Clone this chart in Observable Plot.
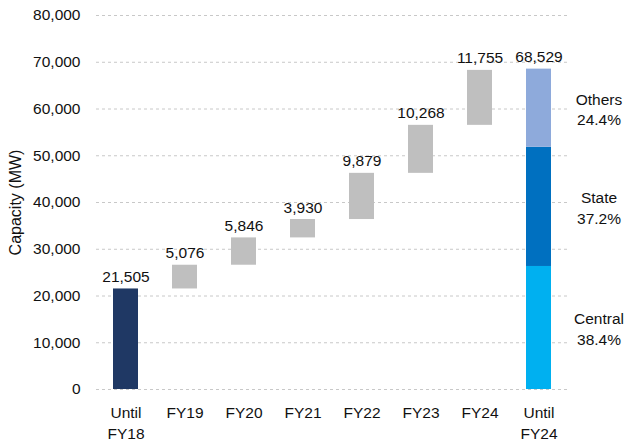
<!DOCTYPE html>
<html>
<head>
<meta charset="utf-8">
<script src="https://cdn.jsdelivr.net/npm/d3@7"></script>
<script src="https://cdn.jsdelivr.net/npm/@observablehq/plot@0.6"></script>
<style>
  html, body { margin: 0; padding: 0; background: #fff; }
</style>
</head>
<body>
<div id="chart"></div>
<script>
const categories = ["Until FY18", "FY19", "FY20", "FY21", "FY22", "FY23", "FY24", "Until FY24"];
const tickLabels = ["Until\nFY18", "FY19", "FY20", "FY21", "FY22", "FY23", "FY24", "Until\nFY24"];
const stepValues = [21505, 5076, 5846, 3930, 9879, 10268, 11755];
const totalValue = 68529;
const segments = ["Central", "State", "Others"];
const segmentShares = [38.4, 37.2, 24.4];
const yTicks = [0, 10000, 20000, 30000, 40000, 50000, 60000, 70000, 80000];

// build waterfall rows
let cum = 0;
const steps = stepValues.map((v, i) => {
  const row = {cat: categories[i], y1: cum, y2: cum + v, value: v, kind: i === 0 ? "base" : "step"};
  cum += v;
  return row;
});
let sc = 0;
const stack = segments.map((s, i) => {
  const h = totalValue * segmentShares[i] / 100;
  const row = {cat: categories[7], seg: s, share: segmentShares[i], y1: sc, y2: sc + h};
  sc += h;
  return row;
});
const labels = [...steps.map(d => ({cat: d.cat, y: d.y2, text: d3.format(",")(d.value)})),
  {cat: categories[7], y: totalValue, text: d3.format(",")(totalValue)}];

const segColor = {Central: "#00b0f0", State: "#0070c0", Others: "#8eaadb"};
const FONT = "'Liberation Sans', Arial, sans-serif";
const FS = 15.5;

const chart = Plot.plot({
  width: 625,
  height: 448,
  marginLeft: 96,
  marginRight: 57,
  marginTop: 15,
  marginBottom: 59,
  style: {fontFamily: FONT, fontSize: FS + "px", color: "#111", background: "#fff"},
  x: {type: "band", domain: categories, paddingInner: 0.576, paddingOuter: 0.288},
  y: {domain: [0, 80000]},
  marks: [
    Plot.gridY(yTicks, {stroke: "#c8c8c8", strokeOpacity: 1, strokeDasharray: "3,3"}),
    Plot.axisY(yTicks, {tickSize: 0, tickPadding: 16, tickFormat: d3.format(","), fontSize: FS,
      label: null}),
    Plot.axisY({label: "Capacity (MW)", labelAnchor: "center", labelOffset: 87, labelArrow: "none",
      ticks: [], tickSize: 0, fontSize: 16}),
    Plot.axisX(categories, {tickSize: 0, tickPadding: 14, fontSize: FS, label: null,
      tickFormat: (d) => tickLabels[categories.indexOf(d)], lineHeight: 1.35}),
    Plot.barY(steps, {x: "cat", y1: "y1", y2: "y2", fill: d => d.kind === "base" ? "#1f3864" : "#bfbfbf"}),
    Plot.barY(stack, {x: "cat", y1: "y1", y2: "y2", fill: d => segColor[d.seg]}),
    Plot.text(labels, {x: "cat", y: "y", text: "text", lineAnchor: "bottom", dy: -7, fontSize: FS, fill: "#111"}),
    Plot.text(stack, {x: "cat", y: d => (d.y1 + d.y2) / 2, text: d => `${d.seg}\n${d.share.toFixed(1)}%`,
      dx: 60, lineAnchor: "middle", lineHeight: 1.33, fontSize: FS, fill: "#111"})
  ]
});
document.getElementById("chart").appendChild(chart);
</script>
</body>
</html>
